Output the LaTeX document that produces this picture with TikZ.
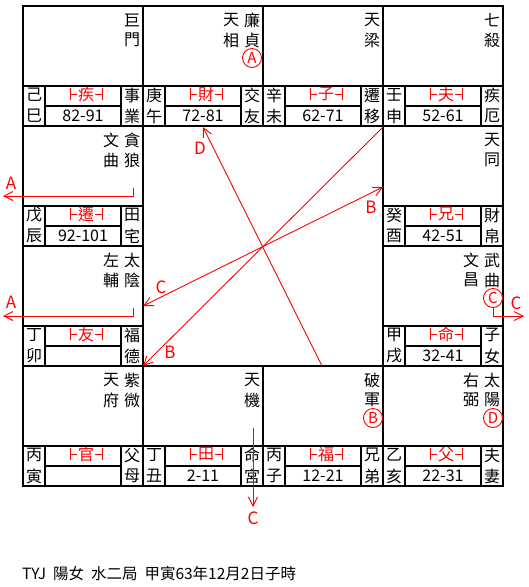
\documentclass[tikz,border=0pt]{standalone}
\usepackage{fontspec}
\newfontfamily\cjk{Noto Sans CJK TC}
\usetikzlibrary{arrows.meta,calc}
\tikzset{
  grid/.style={line width=2pt,black},
  con/.style={red,line width=0.9pt},
  txt/.style={inner sep=0pt,font=\cjk\fontsize{16}{16}\selectfont},
  lbl/.style={txt,red},
  letter/.style={inner sep=0pt,red,font=\cjk\fontsize{17}{17}\selectfont},
  circ/.style={circle,draw=red,line width=0.9pt,minimum size=19pt,inner sep=0pt,red,font=\cjk\fontsize{15}{15}\selectfont},
  arr/.style={-{Straight Barb[length=9pt,width=9pt]}},
  darr/.style={{Straight Barb[length=9pt,width=9pt]}-{Straight Barb[length=9pt,width=9pt]}}
}
% #1 x, #2 y, #3 id, #4 stem, #5 branch, #6 label, #7 age, #8 palace1, #9 palace2
\newcommand\palcell[9]{%
  \draw[grid] (#1,#2) rectangle ++(120,120);
  \draw[grid] (#1,#2+80) -- ++(120,0);
  \draw[grid] (#1+22,#2+80) -- ++(0,40);
  \draw[grid] (#1+98,#2+80) -- ++(0,40);
  \draw[grid] (#1+22,#2+100) -- ++(76,0);
  \node[txt] (#3-s) at (#1+11,#2+89) {#4};
  \node[txt] (#3-b) at (#1+11,#2+110) {#5};
  \node[txt] (#3-p) at (#1+109,#2+89) {#8};
  \node[txt] (#3-q) at (#1+109,#2+110) {#9};
  \node[lbl] (#3-l) at (#1+63,#2+88) {#6};
  \draw[con] ($(#3-l)+(-16,-6)$) -- ++(0,12);
  \draw[con] ($(#3-l)+(-16,0)$) -- ++(7,0);
  \draw[con] ($(#3-l)+(16,-6)$) -- ++(0,12);
  \draw[con] ($(#3-l)+(16,0)$) -- ++(-7,0);
  \node[txt] (#3-a) at (#1+60,#2+110) {#7};
}
\newcommand\starcol[5]{%
  \node[txt] (#1-1) at (#2,#3) {#4};
  \node[txt] (#1-2) at (#2,#3+20) {#5};
}
\begin{document}
\begin{tikzpicture}[x=1pt,y=-1pt]
\useasboundingbox (0,0) rectangle (529,587);
\fill[white] (0,0) rectangle (529,587);
% cells
\palcell{23}{6}{si}{己}{巳}{疾}{82-91}{事}{業}
\palcell{143}{6}{wu}{庚}{午}{財}{72-81}{交}{友}
\palcell{263}{6}{wei}{辛}{未}{子}{62-71}{遷}{移}
\palcell{383}{6}{shen}{壬}{申}{夫}{52-61}{疾}{厄}
\palcell{23}{126}{chen}{戊}{辰}{遷}{92-101}{田}{宅}
\palcell{383}{126}{you}{癸}{酉}{兄}{42-51}{財}{帛}
\palcell{23}{246}{mao}{丁}{卯}{友}{}{福}{德}
\palcell{383}{246}{xu}{甲}{戌}{命}{32-41}{子}{女}
\palcell{23}{366}{yin}{丙}{寅}{官}{}{父}{母}
\palcell{143}{366}{chou}{丁}{丑}{田}{2-11}{命}{宮}
\palcell{263}{366}{zi}{丙}{子}{福}{12-21}{兄}{弟}
\palcell{383}{366}{hai}{乙}{亥}{父}{22-31}{夫}{妻}
% stars
\starcol{jm}{132}{20}{巨}{門}
\starcol{lz}{252}{20}{廉}{貞}
\starcol{tx}{231}{20}{天}{相}
\starcol{tl}{372}{20}{天}{梁}
\starcol{qs}{492}{20}{七}{殺}
\starcol{tlang}{132}{140}{貪}{狼}
\starcol{wq}{111}{140}{文}{曲}
\starcol{tt}{492}{140}{天}{同}
\starcol{ty}{132}{260}{太}{陰}
\starcol{zf}{111}{260}{左}{輔}
\starcol{wuq}{492}{260}{武}{曲}
\starcol{wc}{471}{260}{文}{昌}
\starcol{zw}{132}{380}{紫}{微}
\starcol{tf}{111}{380}{天}{府}
\starcol{tj}{252}{380}{天}{機}
\starcol{pj}{372}{380}{破}{軍}
\starcol{tyang}{492}{380}{太}{陽}
\starcol{yb}{471}{380}{右}{弼}
% circled marks
\node[circ] (cA) at (252,58) {A};
\node[circ] (cB) at (373,418) {B};
\node[circ] (cC) at (493,298) {C};
\node[circ] (cD) at (493,418) {D};
% A connectors
\coordinate (a1s) at (133,188);
\coordinate (a1e) at (3,196);
\draw[con,arr] (a1s) |- (a1e);
\node[letter] (a1l) at (11,183) {A};
\coordinate (a2s) at (133,308);
\coordinate (a2e) at (3,316);
\draw[con,arr] (a2s) |- (a2e);
\node[letter] (a2l) at (11,302) {A};
% C from Tianji
\coordinate (t1) at (253,428);
\coordinate (t2) at (253,507);
\draw[con,arr] (t1) -- (t2);
\node[letter] (t3) at (253,518) {C};
% C from Wuqu
\coordinate (c2e) at (524,316);
\draw[con,arr] (cC.south) |- (c2e);
\node[letter] (c2l) at (516,303) {C};
% centre lines
\coordinate (dS) at (322,366);
\coordinate (dE) at (203,127);
\draw[con,arr] (dS) -- (dE);
\node[letter] (dl) at (200,148) {D};
\coordinate (bS) at (383,127);
\coordinate (bE) at (143,366);
\draw[con,arr] (bS) -- (bE);
\node[letter] (bl) at (170,352) {B};
\coordinate (cE) at (143,306);
\coordinate (b2E) at (383,187);
\draw[con,darr] (cE) -- (b2E);
\node[letter] (cl) at (161,287) {C};
\node[letter] (b2l) at (371,207) {B};
% footer
\node[txt,anchor=west,font=\cjk\fontsize{15.5}{15.5}\selectfont] (foot) at (22,574) {TYJ\hspace{7pt}陽女\hspace{7pt}水二局\hspace{7pt}甲寅63年12月2日子時};
\end{tikzpicture}
\end{document}
